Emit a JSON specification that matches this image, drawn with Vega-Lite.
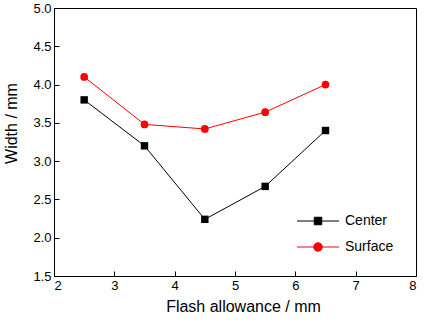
{
  "$schema": "https://vega.github.io/schema/vega-lite/v6.json",
  "width": 362,
  "height": 268,
  "autosize": {"type": "none"},
  "padding": {"left": 54, "top": 8, "right": 9, "bottom": 46},
  "background": "white",
  "config": {
    "font": "Liberation Sans",
    "view": {"stroke": "black", "strokeWidth": 1},
    "axis": {
      "grid": false,
      "domainColor": "black",
      "domainWidth": 1,
      "tickColor": "black",
      "tickWidth": 1,
      "tickSize": -5,
      "labelColor": "black",
      "labelFont": "Liberation Sans",
      "labelFontSize": 13,
      "titleColor": "black",
      "titleFont": "Liberation Sans",
      "titleFontSize": 16,
      "titleFontWeight": "normal"
    },
    "legend": {
      "title": null,
      "orient": "bottom-right",
      "offset": 22,
      "labelFont": "Liberation Sans",
      "labelFontSize": 14,
      "labelColor": "black",
      "labelOffset": 20,
      "symbolSize": 100,
      "rowPadding": 12
    }
  },
  "data": {
    "values": [
      {"flash": 2.5, "width": 3.8, "series": "Center"},
      {"flash": 3.5, "width": 3.2, "series": "Center"},
      {"flash": 4.5, "width": 2.24, "series": "Center"},
      {"flash": 5.5, "width": 2.67, "series": "Center"},
      {"flash": 6.5, "width": 3.4, "series": "Center"},
      {"flash": 2.5, "width": 4.1, "series": "Surface"},
      {"flash": 3.5, "width": 3.48, "series": "Surface"},
      {"flash": 4.5, "width": 3.42, "series": "Surface"},
      {"flash": 5.5, "width": 3.64, "series": "Surface"},
      {"flash": 6.5, "width": 4.0, "series": "Surface"}
    ]
  },
  "encoding": {
    "x": {
      "field": "flash", "type": "quantitative",
      "scale": {"domain": [2, 8], "nice": false, "zero": false},
      "axis": {"title": "Flash allowance / mm", "values": [2, 3, 4, 5, 6, 7, 8], "format": "d", "labelPadding": 8, "titlePadding": 6, "titleX": 189}
    },
    "y": {
      "field": "width", "type": "quantitative",
      "scale": {"domain": [1.5, 5], "nice": false, "zero": false},
      "axis": {"title": "Width / mm", "values": [1.5, 2, 2.5, 3, 3.5, 4, 4.5, 5], "format": ".1f", "labelPadding": 8, "titlePadding": 13, "titleY": 115}
    },
    "color": {
      "field": "series", "type": "nominal",
      "scale": {"domain": ["Center", "Surface"], "range": ["black", "#ff0000"]},
      "legend": {
        "encode": {
          "symbols": {
            "update": {
              "shape": {"signal": "datum.value === 'Center' ? 'M-4.2,0H4.2M-0.75,-0.75H0.75V0.75H-0.75Z' : 'M-4.2,0H4.2M0.85,0A0.85,0.85,0,1,1,-0.85,0A0.85,0.85,0,1,1,0.85,0Z'"},
              "fill": {"scale": "color", "field": "value"},
              "stroke": {"scale": "color", "field": "value"},
              "strokeWidth": {"value": 1},
              "opacity": {"value": 1},
              "fillOpacity": {"value": 1},
              "strokeOpacity": {"value": 1}
            }
          }
        }
      }
    }
  },
  "layer": [
    {"mark": {"type": "line", "strokeWidth": 1}},
    {
      "transform": [{"filter": "datum.series === 'Center'"}],
      "mark": {"type": "point", "filled": true, "size": 55, "opacity": 1, "shape": "square"}
    },
    {
      "transform": [{"filter": "datum.series === 'Surface'"}],
      "mark": {"type": "point", "filled": true, "size": 60, "opacity": 1, "shape": "circle"}
    }
  ]
}
